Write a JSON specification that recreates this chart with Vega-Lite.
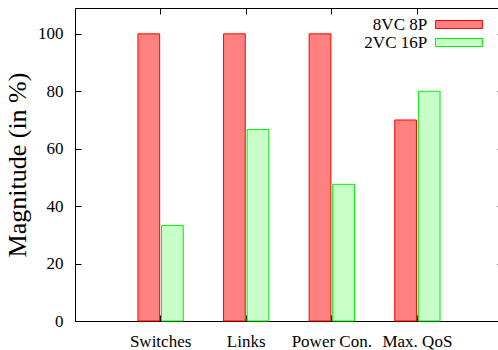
{
  "$schema": "https://vega.github.io/schema/vega-lite/v6.json",
  "width": 428,
  "height": 313,
  "autosize": "none",
  "padding": {"left": 75, "top": 8, "right": 0, "bottom": 29},
  "background": "white",
  "config": {
    "font": "Liberation Serif",
    "view": {"stroke": "black", "strokeWidth": 1},
    "axis": {
      "domainColor": "black",
      "tickColor": "black",
      "labelColor": "black",
      "titleColor": "black",
      "labelFont": "Liberation Serif",
      "titleFont": "Liberation Serif",
      "grid": false
    }
  },
  "data": {
    "values": [
      {"category": "Switches", "config": "8VC 8P", "value": 100},
      {"category": "Switches", "config": "2VC 16P", "value": 33.3},
      {"category": "Links", "config": "8VC 8P", "value": 100},
      {"category": "Links", "config": "2VC 16P", "value": 66.7},
      {"category": "Power Con.", "config": "8VC 8P", "value": 100},
      {"category": "Power Con.", "config": "2VC 16P", "value": 47.6},
      {"category": "Max. QoS", "config": "8VC 8P", "value": 70},
      {"category": "Max. QoS", "config": "2VC 16P", "value": 80}
    ]
  },
  "resolve": {"axis": {"x": "independent", "y": "independent"}},
  "layer": [
    {
      "mark": {"type": "bar", "strokeWidth": 1},
      "encoding": {
        "x": {
          "field": "category",
          "type": "nominal",
          "sort": ["Switches", "Links", "Power Con.", "Max. QoS"],
          "scale": {"paddingInner": 0, "paddingOuter": 0.5},
          "axis": {
            "title": null,
            "labelAngle": 0,
            "tickSize": -6,
            "labelPadding": 18,
            "labelFontSize": 17,
            "domain": true
          }
        },
        "xOffset": {
          "field": "config",
          "type": "nominal",
          "sort": ["8VC 8P", "2VC 16P"],
          "scale": {"paddingInner": 0.08, "paddingOuter": 0.854}
        },
        "y": {
          "field": "value",
          "type": "quantitative",
          "scale": {"domain": [0, 109], "nice": false},
          "axis": {
            "title": "Magnitude (in %)",
            "titleFont": "Liberation Serif",
            "titleFontSize": 26,
            "titleFontWeight": "normal",
            "titlePadding": 7,
            "values": [0, 20, 40, 60, 80, 100],
            "tickSize": -6,
            "labelPadding": 18,
            "labelFontSize": 17
          }
        },
        "fill": {
          "field": "config",
          "type": "nominal",
          "sort": ["8VC 8P", "2VC 16P"],
          "scale": {"domain": ["8VC 8P", "2VC 16P"], "range": ["#ff8080", "#c8ffc8"]},
          "legend": {
            "title": null,
            "orient": "none",
            "legendX": 375.6,
            "legendY": 8,
            "padding": 0,
            "symbolType": "M-4,-0.68H4V0.68H-4Z",
            "symbolSize": 138,
            "symbolStrokeWidth": 1,
            "labelAlign": "right",
            "labelOffset": -40.4,
            "labelFont": "Liberation Serif",
            "labelFontSize": 17,
            "labelColor": "black",
            "rowPadding": 0
          }
        },
        "stroke": {
          "field": "config",
          "type": "nominal",
          "sort": ["8VC 8P", "2VC 16P"],
          "scale": {"domain": ["8VC 8P", "2VC 16P"], "range": ["#ff0000", "#00ee00"]}
        }
      }
    },
    {
      "mark": {"type": "bar", "opacity": 0},
      "encoding": {
        "x": {
          "field": "category",
          "type": "nominal",
          "sort": ["Switches", "Links", "Power Con.", "Max. QoS"],
          "axis": {"orient": "top", "title": null, "labels": false, "tickSize": -6, "domain": false}
        },
        "xOffset": {"field": "config", "type": "nominal", "sort": ["8VC 8P", "2VC 16P"]},
        "y": {
          "field": "value",
          "type": "quantitative",
          "axis": {"orient": "right", "title": null, "labels": false, "values": [0, 20, 40, 60, 80, 100], "tickSize": -6, "domain": false}
        }
      }
    }
  ]
}
